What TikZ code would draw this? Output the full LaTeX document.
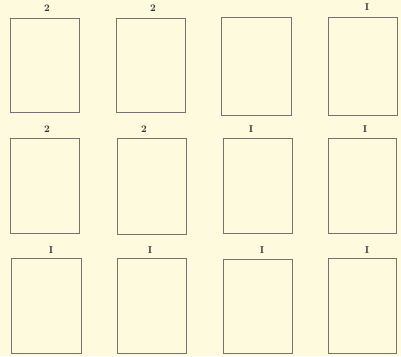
\documentclass[tikz,border=0pt]{standalone}
\begin{document}
\begin{tikzpicture}[x=1pt,y=-1pt,
  cell/.style={draw=black!55,line width=0.9pt,inner sep=0pt,minimum width=69pt,minimum height=95pt},
  lbl/.style={text=black!80,font=\fontsize{10}{10}\selectfont\bfseries,inner sep=0pt}]
\fill[fill={rgb,255:red,253;green,250;blue,222}] (0,0) rectangle (401,356);
\useasboundingbox (0,0) rectangle (401,356);
% row 1
\node[cell,minimum height=94pt] (b11) at (44.5,65) {};
\node[cell,minimum height=94pt] (b12) at (150.5,65) {};
\node[cell,minimum height=98pt,minimum width=70pt] (b13) at (256,66) {};
\node[cell,minimum height=98pt] (b14) at (362.5,66) {};
\node[lbl] (l11) at (47,8) {2};
\node[lbl] (l12) at (153,8) {2};
\node[lbl] (l14) at (367,7) {I};
% row 2
\node[cell] (b21) at (45,185.5) {};
\node[cell,minimum height=96pt] (b22) at (151.5,186) {};
\node[cell] (b23) at (257.5,185.5) {};
\node[cell,minimum width=68pt] (b24) at (362,186) {};
\node[lbl] (l21) at (47,129) {2};
\node[lbl] (l22) at (144,129) {2};
\node[lbl] (l23) at (251,129) {I};
\node[lbl] (l24) at (365,129) {I};
% row 3
\node[cell,minimum height=95pt,minimum width=70pt] (b31) at (46,305.5) {};
\node[cell,minimum height=95pt] (b32) at (151.5,306) {};
\node[cell,minimum height=94pt] (b33) at (257.5,306) {};
\node[cell,minimum height=95pt,minimum width=68pt] (b34) at (362,306) {};
\node[lbl] (l31) at (51,250) {I};
\node[lbl] (l32) at (150,250) {I};
\node[lbl] (l33) at (262,250) {I};
\node[lbl] (l34) at (367,250) {I};
\end{tikzpicture}
\end{document}
